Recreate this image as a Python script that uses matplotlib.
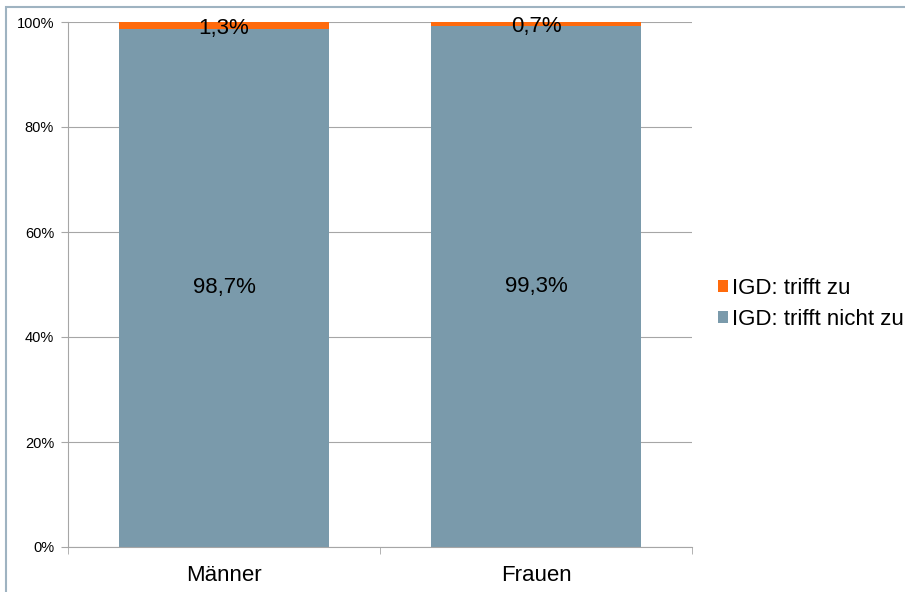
import matplotlib.pyplot as plt
from matplotlib.patches import Rectangle
import numpy as np

plt.rcParams['font.family'] = ['Liberation Sans', 'DejaVu Sans']

categories = ['Männer', 'Frauen']
trifft_nicht_zu = [98.7, 99.3]
trifft_zu = [1.3, 0.7]
labels_nicht = ['98,7%', '99,3%']
labels_zu = ['1,3%', '0,7%']
yticks = [0, 20, 40, 60, 80, 100]

blue_grey = '#7A9AAB'
orange = '#FF6A0C'
grid_c = '#A6A6A6'

fig = plt.figure(figsize=(9.05, 5.92), dpi=100)
ax = fig.add_axes([68 / 905, 1 - 547 / 592, 624 / 905, 525 / 592])

x = np.arange(len(categories))
w = 0.67
b1 = ax.bar(x, trifft_nicht_zu, w, color=blue_grey, label='IGD: trifft nicht zu', zorder=2)
b2 = ax.bar(x, trifft_zu, w, bottom=trifft_nicht_zu, color=orange, label='IGD: trifft zu', zorder=2)

for i in range(len(categories)):
    ax.text(x[i], trifft_nicht_zu[i] / 2, labels_nicht[i], ha='center', va='center', fontsize=16, zorder=3)
    ax.text(x[i], trifft_nicht_zu[i] + trifft_zu[i] / 2 - 0.6, labels_zu[i], ha='center', va='center',
            fontsize=16, zorder=3)

ax.set_xlim(-0.5, 1.5)
ax.set_ylim(0, 100)
ax.set_yticks(yticks)
ax.set_yticklabels([f'{t}%' for t in yticks], fontsize=10.5)
ax.yaxis.grid(True, color=grid_c, linewidth=0.8, zorder=0)
ax.set_xticks(x)
ax.set_xticklabels(categories, fontsize=16)
ax.tick_params(axis='x', length=0, pad=13)
ax.set_xticks([-0.5, 0.5, 1.5], minor=True)
ax.tick_params(axis='x', which='minor', length=5, color=grid_c, direction='out')
ax.tick_params(axis='y', length=5, color=grid_c, pad=5)
for s in ['top', 'right']:
    ax.spines[s].set_visible(False)
for s in ['left', 'bottom']:
    ax.spines[s].set_color(grid_c)
    ax.spines[s].set_linewidth(0.8)

handles = [b2, b1]
fig.legend(handles, [h.get_label() for h in handles], loc='upper left',
           bbox_to_anchor=(718 / 905, 1 - 278 / 592), frameon=False, fontsize=16,
           handlelength=0.45, handleheight=0.45, handletextpad=0.2, labelspacing=0.45,
           borderaxespad=0, borderpad=0)

fig.patches.append(Rectangle((6 / 905, -0.1), 1.2, 1 - 7 / 592 + 0.1, transform=fig.transFigure,
                             fill=False, edgecolor='#9FB3C1', linewidth=1.5, zorder=-1))

fig.savefig('out.png', dpi=100)
